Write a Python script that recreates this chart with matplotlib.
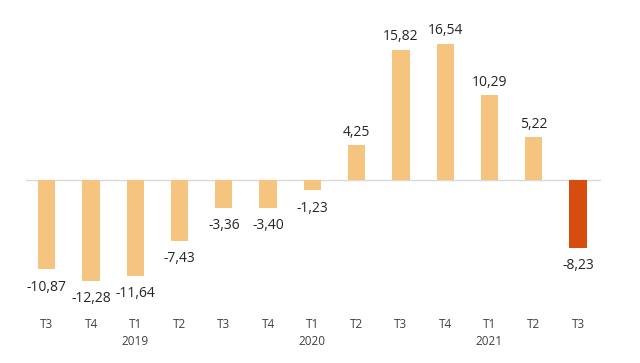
import numpy as np
import matplotlib.pyplot as plt

# quarterly values
quarters = ["T3", "T4", "T1\n2019", "T2", "T3", "T4", "T1\n2020",
            "T2", "T3", "T4", "T1\n2021", "T2", "T3"]
values = [-10.87, -12.28, -11.64, -7.43, -3.36, -3.40, -1.23,
          4.25, 15.82, 16.54, 10.29, 5.22, -8.23]

light = "#F5C57F"
dark = "#D64D0D"
colors = [light] * (len(values) - 1) + [dark]

fig = plt.figure(figsize=(6.4, 3.63), dpi=100)
# axes placed so zero line sits at ~180 px from top
ax_left, ax_right = 26 / 640, 601 / 640
ax_top, ax_bottom = 20, 305  # px from top
ax = fig.add_axes([ax_left, 1 - ax_bottom / 363, ax_right - ax_left, (ax_bottom - ax_top) / 363])

scale = 8.22  # px per unit
ymax = (180 - ax_top) / scale
ymin = -(ax_bottom - 180) / scale

x = np.arange(len(values))
ax.bar(x, values, width=0.39, color=colors, zorder=2)
ax.axhline(0, color="#D9D9D9", lw=1, zorder=1)

for xi, v in zip(x, values):
    lab = ("%.2f" % v).replace(".", ",")
    if v >= 0:
        ax.annotate(lab, (xi, v), xytext=(0, 4), textcoords="offset points",
                    ha="center", va="bottom", fontsize=10, color="#262626",
                    family="Open Sans")
    else:
        ax.annotate(lab, (xi, v), xytext=(0, -7.5), textcoords="offset points",
                    ha="center", va="top", fontsize=10, color="#262626",
                    family="Open Sans")

ax.set_xlim(-0.47, 12.52)
ax.set_ylim(ymin, ymax)
ax.set_xticks(x)
ax.set_xticklabels(quarters, fontsize=8.5, color="#404040", family="Open Sans",
                   linespacing=1.45)
ax.tick_params(axis="x", length=0, pad=9)
ax.set_yticks([])
for s in ax.spines.values():
    s.set_visible(False)

fig.savefig("out.png", dpi=100)
